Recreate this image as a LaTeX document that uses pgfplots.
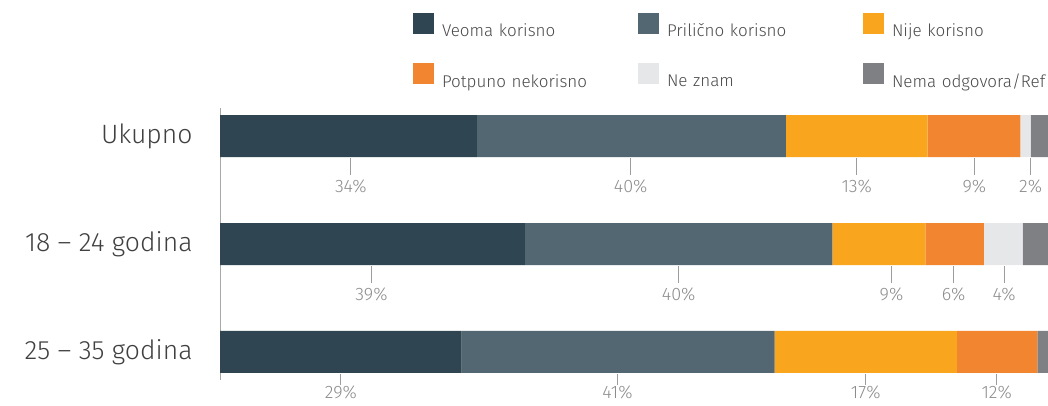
\documentclass[border=0pt]{standalone}
\usepackage{pgfplots}
\pgfplotsset{compat=1.18}
\usepackage{fontspec}
\setmainfont{Fira Sans Light}
\definecolor{c1}{HTML}{2F4551}
\definecolor{c2}{HTML}{536773}
\definecolor{c3}{HTML}{F9A51E}
\definecolor{c4}{HTML}{F28630}
\definecolor{c5}{HTML}{E6E7E8}
\definecolor{c6}{HTML}{7F8084}
\definecolor{axgray}{HTML}{A8A8A8}
\definecolor{lblgray}{HTML}{8C8C8C}
\definecolor{txt}{HTML}{404040}
\definecolor{legtxt}{HTML}{4A4A4A}
\begin{document}
\begin{tikzpicture}[x=1pt,y=1pt,
  vl/.style={lblgray, anchor=base, font=\fontsize{18}{20}\selectfont},
  tl/.style={lblgray!85!white, line width=0.9pt}]
\begin{axis}[
  at={(220pt,-380pt)}, anchor=south west,
  scale only axis, width=828pt, height=272pt,
  xbar stacked, bar width=42pt,
  xmin=0, xmax=100, ymin=-0.26, ymax=2.26, y dir=reverse,
  axis x line=none,
  axis y line*=left, y axis line style={axgray, line width=0.8pt},
  ytick={0,1,2}, yticklabels={Ukupno, 18 – 24 godina, 25 – 35 godina},
  major tick length=0pt,
  yticklabel style={font=\fontsize{26.5}{28}\selectfont, text=txt, xshift=-24pt},
  legend columns=3,
  legend style={at={(axis description cs:0.2331,1.349)}, anchor=north west,
    draw=none, fill=none, inner sep=0pt, outer sep=0pt,
    font=\fontsize{17}{20}\selectfont, text=legtxt,
    nodes={text width=196pt, align=left, inner sep=0pt},
    /tikz/every odd column/.append style={column sep=8pt},
    row sep=25pt},
  legend image code/.code={\fill[#1] (0pt,-3pt) rectangle (21pt,18pt);},
  clip mode=individual,
]
\addplot[fill=c1, draw=none] coordinates {(31.01,0) (36.82,1) (29.18,2)};
\addplot[fill=c2, draw=none] coordinates {(37.34,0) (37.14,1) (37.80,2)};
\addplot[fill=c3, draw=none] coordinates {(17.10,0) (11.23,1) (22.00,2)};
\addplot[fill=c4, draw=none] coordinates {(11.22,0) (7.05,1) (9.72,2)};
\addplot[fill=c5, draw=none] coordinates {(1.24,0) (4.70,1) (0,2)};
\addplot[fill=c6, draw=none] coordinates {(4,0) (4,1) (4,2)};
\legend{Veoma korisno, Prilično korisno, Nije korisno, Potpuno nekorisno, Ne znam, Nema odgovora/Ref}
% value labels, row 1
\draw[tl] (axis cs:15.8,0.204) -- (axis cs:15.8,0.361);
\draw[tl] (axis cs:49.6,0.204) -- (axis cs:49.6,0.361);
\draw[tl] (axis cs:76.9,0.204) -- (axis cs:76.9,0.361);
\draw[tl] (axis cs:91.1,0.204) -- (axis cs:91.1,0.361);
\draw[tl] (axis cs:97.9,0.204) -- (axis cs:97.9,0.361);
\node[vl] at (axis cs:15.8,0.519) {34\%};
\node[vl] at (axis cs:49.6,0.519) {40\%};
\node[vl] at (axis cs:76.9,0.519) {13\%};
\node[vl] at (axis cs:91.1,0.519) {9\%};
\node[vl] at (axis cs:97.9,0.519) {2\%};
% row 2
\draw[tl] (axis cs:18.3,1.204) -- (axis cs:18.3,1.361);
\draw[tl] (axis cs:55.4,1.204) -- (axis cs:55.4,1.361);
\draw[tl] (axis cs:81.1,1.204) -- (axis cs:81.1,1.361);
\draw[tl] (axis cs:88.6,1.204) -- (axis cs:88.6,1.361);
\draw[tl] (axis cs:94.7,1.204) -- (axis cs:94.7,1.361);
\node[vl] at (axis cs:18.3,1.519) {39\%};
\node[vl] at (axis cs:55.4,1.519) {40\%};
\node[vl] at (axis cs:81.1,1.519) {9\%};
\node[vl] at (axis cs:88.6,1.519) {6\%};
\node[vl] at (axis cs:94.7,1.519) {4\%};
% row 3
\draw[tl] (axis cs:14.6,2.204) -- (axis cs:14.6,2.31);
\draw[tl] (axis cs:48.0,2.204) -- (axis cs:48.0,2.31);
\draw[tl] (axis cs:78.0,2.204) -- (axis cs:78.0,2.31);
\draw[tl] (axis cs:93.8,2.204) -- (axis cs:93.8,2.31);
\node[vl] at (axis cs:14.6,2.435) {29\%};
\node[vl] at (axis cs:48.0,2.435) {41\%};
\node[vl] at (axis cs:78.0,2.435) {17\%};
\node[vl] at (axis cs:93.8,2.435) {12\%};
\end{axis}
\pgfresetboundingbox
\useasboundingbox (0pt,0pt) rectangle (1048pt,-405pt);
\end{tikzpicture}
\end{document}
